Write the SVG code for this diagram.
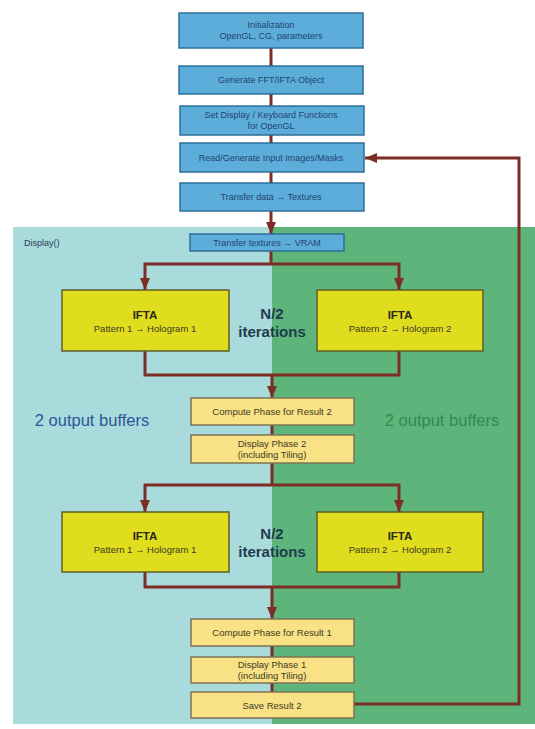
<svg xmlns="http://www.w3.org/2000/svg" width="535" height="729" viewBox="0 0 535 729">
<defs>
<marker id="ah" viewBox="0 0 12 10" refX="12" refY="5" markerWidth="12" markerHeight="10" markerUnits="userSpaceOnUse" orient="auto-start-reverse">
<path d="M0,0 L12,5 L0,10 Z" fill="#7e2d24"/>
</marker>
<style>
.blue{fill:#5daddb;stroke:#2d6f98;stroke-width:1.5}
.ifta{fill:#e0dc1e;stroke:#5e5e2a;stroke-width:1.5}
.ly{fill:#f9e186;stroke:#7d7352;stroke-width:1.5}
.bt{font-family:"Liberation Sans",Arial,sans-serif;font-size:9px;fill:#1f4470;text-anchor:middle}
.yt{font-family:"Liberation Sans",Arial,sans-serif;font-size:9.5px;fill:#3b3b22;text-anchor:middle}
.it{font-family:"Liberation Sans",Arial,sans-serif;font-size:11.5px;font-weight:bold;fill:#2a2a1a;text-anchor:middle}
.nt{font-family:"Liberation Sans",Arial,sans-serif;font-size:15px;font-weight:bold;fill:#1f3b4d;text-anchor:middle}
.con{fill:none;stroke:#7e2d24;stroke-width:3}
</style>
</defs>
<g id="background">
<rect x="13" y="227" width="259" height="497" fill="#a9dadc"/>
<rect x="272" y="227" width="263" height="497" fill="#5db57b"/>
<text x="24" y="246" font-family="Liberation Sans,Arial,sans-serif" font-size="9" fill="#2b3f5a">Display()</text>
<text x="92" y="426" font-family="Liberation Sans,Arial,sans-serif" font-size="16.5" fill="#2b5597" text-anchor="middle">2 output buffers</text>
<text x="442" y="426" font-family="Liberation Sans,Arial,sans-serif" font-size="16.5" fill="#2e8c50" text-anchor="middle">2 output buffers</text>
<text class="nt" x="272" y="319">N/2</text>
<text class="nt" x="272" y="337">iterations</text>
<text class="nt" x="272" y="539">N/2</text>
<text class="nt" x="272" y="557">iterations</text>
</g>
<g id="connectors">
<line class="con" x1="271" y1="48" x2="271" y2="66"/>
<line class="con" x1="271" y1="94" x2="271" y2="106"/>
<line class="con" x1="271" y1="135" x2="271" y2="143"/>
<line class="con" x1="271" y1="172" x2="271" y2="183"/>
<line class="con" x1="271" y1="211" x2="271" y2="234" marker-end="url(#ah)"/>
<polyline class="con" points="271,251 271,264"/>
<polyline class="con" points="145,290 145,264 399,264 399,290" marker-start="url(#ah)" marker-end="url(#ah)"/>
<polyline class="con" points="145,351 145,375 399,375 399,351"/>
<line class="con" x1="272" y1="375" x2="272" y2="398" marker-end="url(#ah)"/>
<line class="con" x1="272" y1="425" x2="272" y2="435"/>
<polyline class="con" points="272,463 272,485"/>
<polyline class="con" points="145,512 145,485 399,485 399,512" marker-start="url(#ah)" marker-end="url(#ah)"/>
<polyline class="con" points="145,572 145,587 399,587 399,572"/>
<line class="con" x1="272" y1="587" x2="272" y2="619" marker-end="url(#ah)"/>
<line class="con" x1="272" y1="646" x2="272" y2="657"/>
<line class="con" x1="272" y1="683" x2="272" y2="692"/>
<polyline class="con" points="354,704 519,704 519,158 365,158" marker-end="url(#ah)"/>
</g>
<g id="n1"><rect class="blue" x="179" y="13" width="184" height="35"/><text class="bt" x="271" y="28">Initialization</text><text class="bt" x="271" y="39">OpenGL, CG, parameters</text></g>
<g id="n2"><rect class="blue" x="179" y="66" width="184" height="28"/><text class="bt" x="271" y="83">Generate FFT/IFTA Object</text></g>
<g id="n3"><rect class="blue" x="180" y="106" width="184" height="29"/><text class="bt" x="271" y="118">Set Display / Keyboard Functions</text><text class="bt" x="271" y="129">for OpenGL</text></g>
<g id="n4"><rect class="blue" x="180" y="143" width="184" height="29"/><text class="bt" x="271" y="160.5">Read/Generate Input Images/Masks</text></g>
<g id="n5"><rect class="blue" x="180" y="183" width="184" height="28"/><text class="bt" x="271" y="200">Transfer data → Textures</text></g>
<g id="n6"><rect class="blue" x="190" y="234" width="154" height="17"/><text class="bt" x="267" y="245.5">Transfer textures → VRAM</text></g>
<g id="n7"><rect class="ifta" x="62" y="290" width="167" height="61"/><text class="it" x="145" y="319">IFTA</text><text class="yt" x="145" y="332">Pattern 1 → Hologram 1</text></g>
<g id="n8"><rect class="ifta" x="317" y="290" width="166" height="61"/><text class="it" x="400" y="319">IFTA</text><text class="yt" x="400" y="332">Pattern 2 → Hologram 2</text></g>
<g id="n9"><rect class="ly" x="191" y="398" width="163" height="27"/><text class="yt" x="272" y="415">Compute Phase for Result 2</text></g>
<g id="n10"><rect class="ly" x="191" y="435" width="163" height="28"/><text class="yt" x="272" y="447">Display Phase 2</text><text class="yt" x="272" y="458">(including Tiling)</text></g>
<g id="n11"><rect class="ifta" x="62" y="512" width="167" height="60"/><text class="it" x="145" y="540">IFTA</text><text class="yt" x="145" y="553">Pattern 1 → Hologram 1</text></g>
<g id="n12"><rect class="ifta" x="317" y="512" width="166" height="60"/><text class="it" x="400" y="540">IFTA</text><text class="yt" x="400" y="553">Pattern 2 → Hologram 2</text></g>
<g id="n13"><rect class="ly" x="191" y="619" width="163" height="27"/><text class="yt" x="272" y="636">Compute Phase for Result 1</text></g>
<g id="n14"><rect class="ly" x="191" y="657" width="163" height="26"/><text class="yt" x="272" y="668">Display Phase 1</text><text class="yt" x="272" y="679">(including Tiling)</text></g>
<g id="n15"><rect class="ly" x="191" y="692" width="163" height="26"/><text class="yt" x="272" y="708.5">Save Result 2</text></g>
</svg>
